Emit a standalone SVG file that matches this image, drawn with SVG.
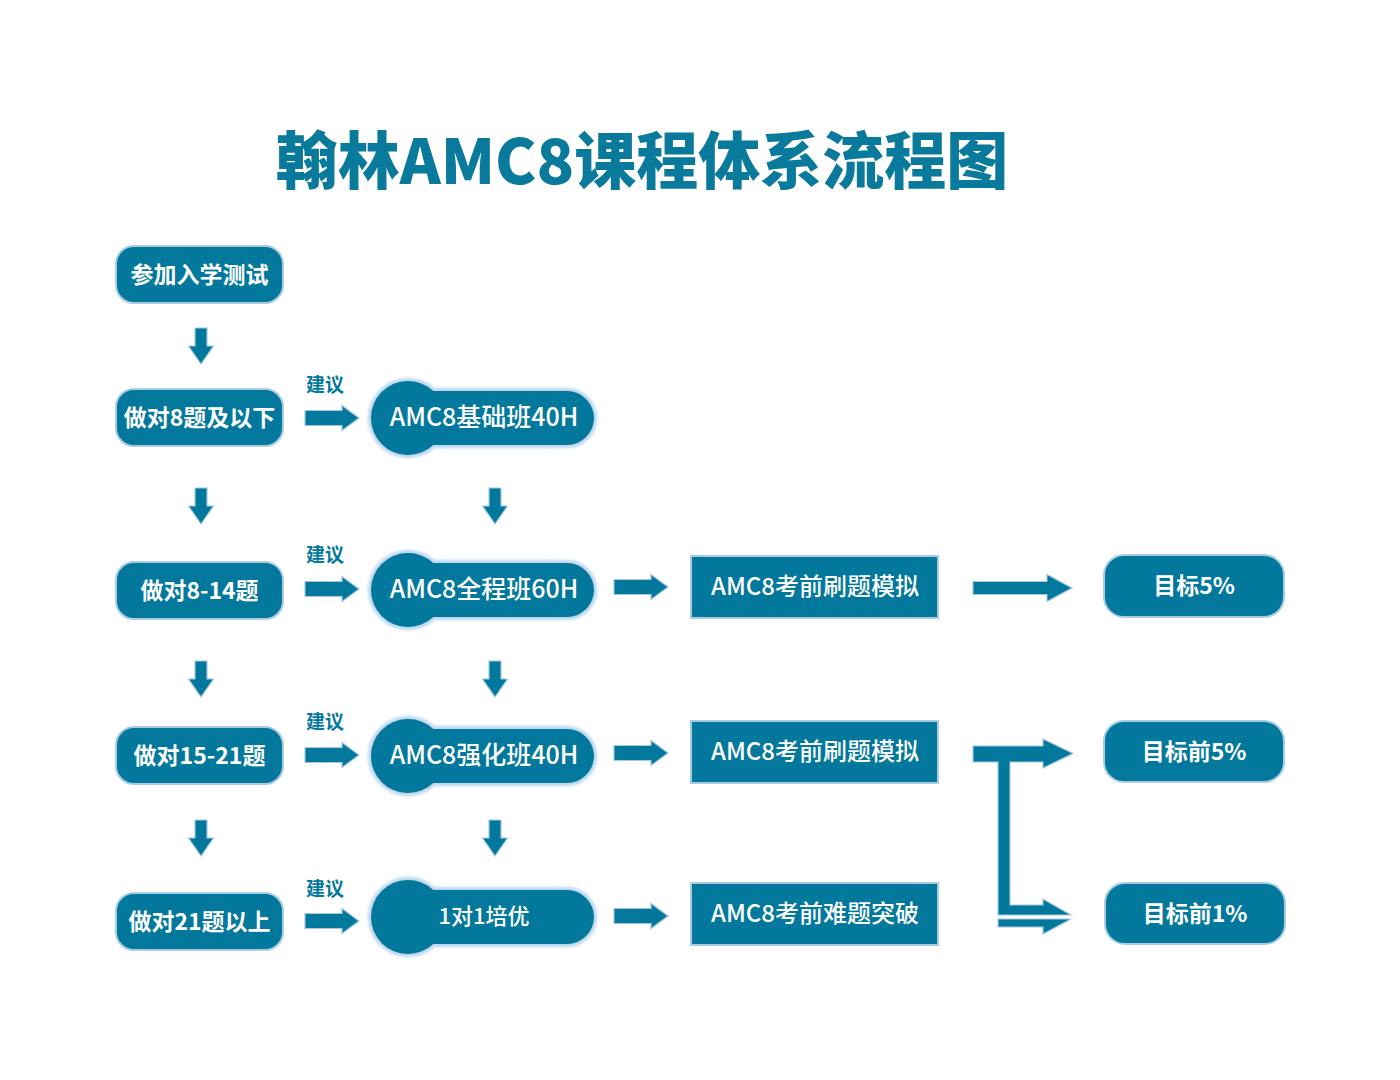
<svg xmlns="http://www.w3.org/2000/svg" width="1400" height="1080" viewBox="0 0 1400 1080">
<style>
text{font-family:"Noto Sans CJK SC","Noto Sans",sans-serif;}
.t{fill:#ffffff;text-anchor:middle;dominant-baseline:central;}
.tl{font-size:23px;font-weight:700;}
.tm{font-size:25px;font-weight:500;}
.tr{font-size:24px;font-weight:500;}
.tg{font-size:23px;font-weight:700;}
.box{fill:#02789c;stroke:#a9cbe6;stroke-width:2;}
.cloud{fill:#02789c;stroke:#b9d6ec;stroke-width:6;}
.arr{fill:#02789c;stroke:#a3c6e2;stroke-width:1.2;}
.sug{fill:#02789c;font-size:19px;font-weight:700;text-anchor:middle;}
</style>
<defs>
<path id="dn" d="M-6,0 H6 V18 H12.5 L0,36 L-12.5,18 H-6 Z"/>
<path id="rs" d="M0,-7.5 H37 V-12.5 L54,0 L37,12.5 V7.5 H0 Z"/>
<path id="rl" d="M0,-6.5 H74 V-13.5 L99,0 L74,13.5 V6.5 H0 Z"/>
<filter id="glow" x="-10%" y="-20%" width="120%" height="140%"><feGaussianBlur stdDeviation="1.8"/></filter>
</defs>
<rect width="1400" height="1080" fill="#ffffff"/>
<text x="642" y="184" text-anchor="middle" font-size="62" font-weight="900" fill="#0a7a9c">翰林AMC8课程体系流程图</text>

<g id="connectors" class="arr">
<use href="#dn" x="201" y="328"/>
<use href="#dn" x="201" y="488"/>
<use href="#dn" x="201" y="661"/>
<use href="#dn" x="201" y="820"/>
<use href="#dn" x="495" y="488"/>
<use href="#dn" x="495" y="661"/>
<use href="#dn" x="495" y="820"/>
<use href="#rs" x="305" y="418"/>
<use href="#rs" x="305" y="589"/>
<use href="#rs" x="305" y="755"/>
<use href="#rs" x="305" y="921"/>
<use href="#rs" x="614" y="587"/>
<use href="#rs" x="614" y="753"/>
<use href="#rs" x="614" y="916"/>
<use href="#rl" x="973" y="588"/>
<path d="M973,746 H1043 V739 L1073,753.5 L1043,768 V762 H1010 V905 H1043 V899 L1071,915 H998 V762 H973 Z"/>
<path d="M998,919 H1071 L1043,934 V927 H998 Z"/>
</g>
<g id="labels">
<text class="sug" x="325" y="392">建议</text>
<text class="sug" x="325" y="562">建议</text>
<text class="sug" x="325" y="729">建议</text>
<text class="sug" x="325" y="896">建议</text>
</g>

<g id="n-test"><rect class="box" x="116" y="246" width="167" height="57" rx="18"/><text class="t tl" x="199.5" y="272.5">参加入学测试</text></g>
<g id="n-le8"><rect class="box" x="116" y="389" width="167" height="57" rx="18"/><text class="t tl" x="199.5" y="415.5">做对8题及以下</text></g>
<g id="n-8-14"><rect class="box" x="116" y="562" width="167" height="57" rx="18"/><text class="t tl" x="199.5" y="588.5">做对8-14题</text></g>
<g id="n-15-21"><rect class="box" x="116" y="727" width="167" height="57" rx="18"/><text class="t tl" x="199.5" y="753.5">做对15-21题</text></g>
<g id="n-21up"><rect class="box" x="116" y="893" width="167" height="57" rx="18"/><text class="t tl" x="199.5" y="919.5">做对21题以上</text></g>

<g id="m-basic"><path class="cloud" filter="url(#glow)" d="M433.3,391 H567 A27,27 0 0 1 567,445 H433.3 A37,37 0 1 1 433.3,391 Z"/><path fill="#02789c" d="M433.3,391 H567 A27,27 0 0 1 567,445 H433.3 A37,37 0 1 1 433.3,391 Z"/><text class="t tm" x="484" y="414.5">AMC8基础班40H</text></g>
<g id="m-full"><path class="cloud" filter="url(#glow)" d="M433.3,563 H567 A27,27 0 0 1 567,617 H433.3 A37,37 0 1 1 433.3,563 Z"/><path fill="#02789c" d="M433.3,563 H567 A27,27 0 0 1 567,617 H433.3 A37,37 0 1 1 433.3,563 Z"/><text class="t tm" x="484" y="586.5">AMC8全程班60H</text></g>
<g id="m-adv"><path class="cloud" filter="url(#glow)" d="M433.3,729 H567 A27,27 0 0 1 567,783 H433.3 A37,37 0 1 1 433.3,729 Z"/><path fill="#02789c" d="M433.3,729 H567 A27,27 0 0 1 567,783 H433.3 A37,37 0 1 1 433.3,729 Z"/><text class="t tm" x="484" y="752.5">AMC8强化班40H</text></g>
<g id="m-1on1"><path class="cloud" filter="url(#glow)" d="M433.3,890 H567 A27,27 0 0 1 567,944 H433.3 A37,37 0 1 1 433.3,890 Z"/><path fill="#02789c" d="M433.3,890 H567 A27,27 0 0 1 567,944 H433.3 A37,37 0 1 1 433.3,890 Z"/><text class="t tm" x="484" y="914" style="font-size:22px">1对1培优</text></g>

<g id="p-mock1"><rect class="box" x="691" y="556" width="247" height="62"/><text class="t tr" x="815" y="584">AMC8考前刷题模拟</text></g>
<g id="p-mock2"><rect class="box" x="691" y="721" width="247" height="62"/><text class="t tr" x="815" y="749">AMC8考前刷题模拟</text></g>
<g id="p-hard"><rect class="box" x="691" y="883" width="247" height="62"/><text class="t tr" x="815" y="911">AMC8考前难题突破</text></g>

<g id="g-5"><rect class="box" x="1104" y="555" width="180" height="62" rx="20"/><text class="t tg" x="1194" y="584">目标5%</text></g>
<g id="g-top5"><rect class="box" x="1104" y="721" width="180" height="61" rx="20"/><text class="t tg" x="1194" y="749.5">目标前5%</text></g>
<g id="g-top1"><rect class="box" x="1105" y="883" width="180" height="61" rx="20"/><text class="t tg" x="1195" y="911.5">目标前1%</text></g>
</svg>
